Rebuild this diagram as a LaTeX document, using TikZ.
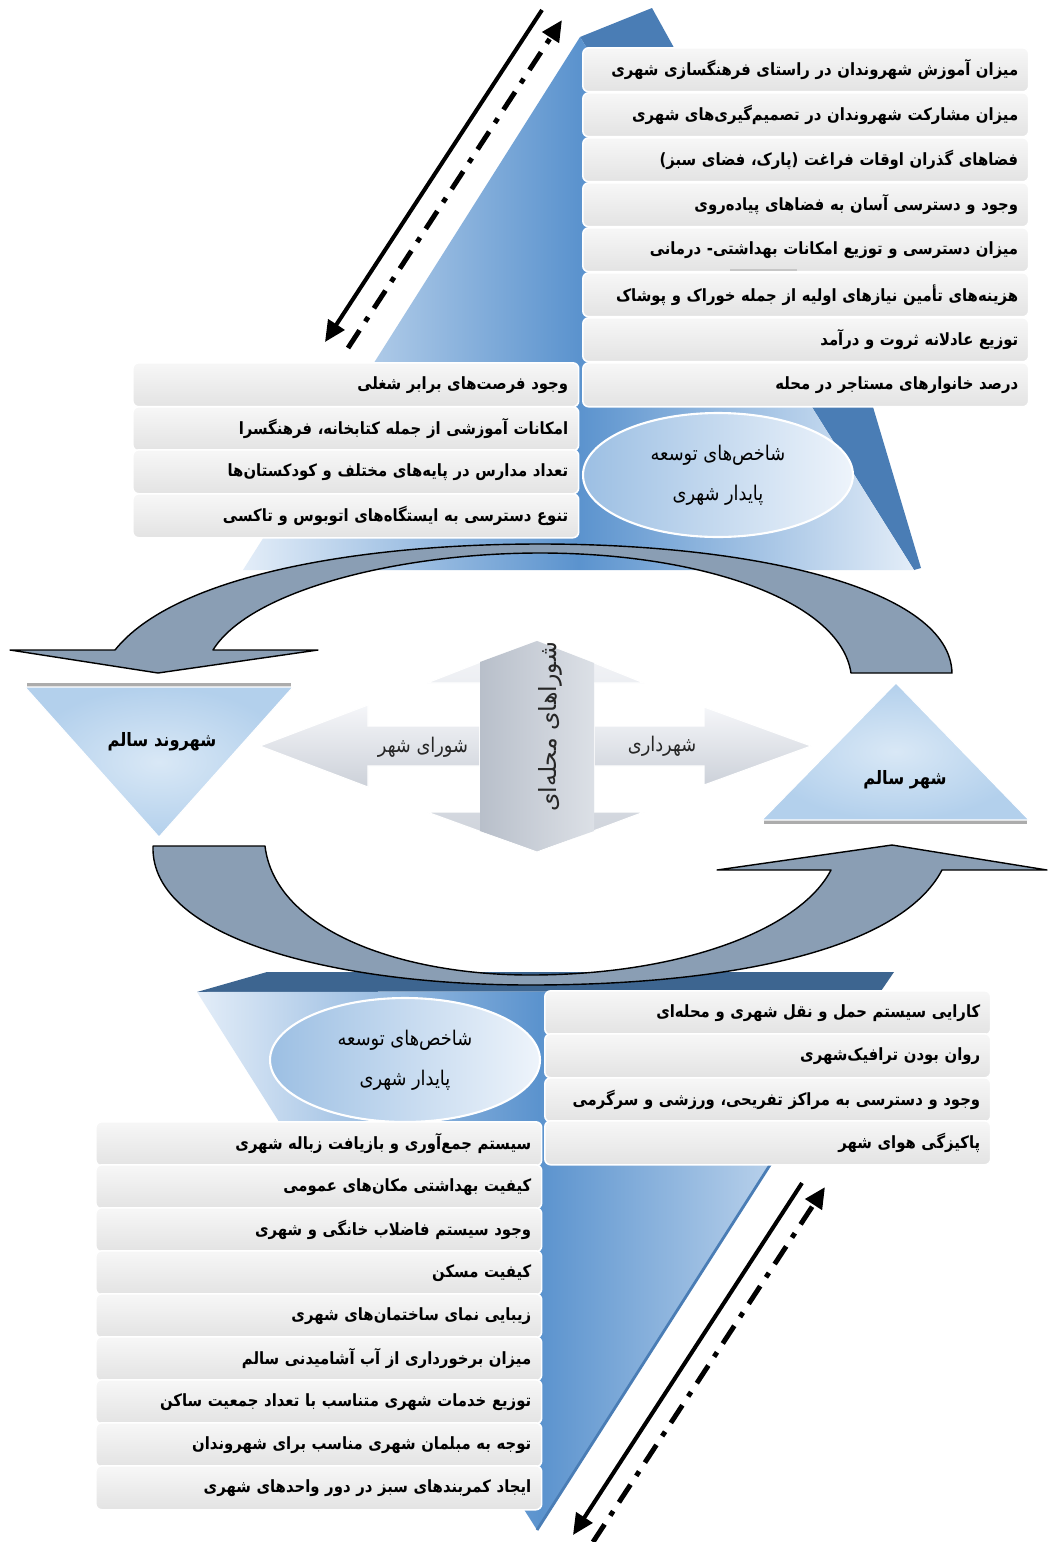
\documentclass[tikz,border=0pt]{standalone}
\usepackage{fontspec}
\newfontfamily\farsi[Script=Arabic]{DejaVu Sans}
\newfontfamily\farsin[Script=Arabic, FakeStretch=0.88]{DejaVu Sans}
\TeXXeTstate=1
\usetikzlibrary{arrows.meta,shapes.geometric}
\newcommand{\rtl}[1]{\beginR #1\endR}

\definecolor{pyrlight}{HTML}{E3EDF8}
\definecolor{pyrblue}{HTML}{5B93CE}
\definecolor{pyrdark}{HTML}{4A7DB5}
\definecolor{banddark}{HTML}{3D6590}
\definecolor{boxtop}{HTML}{F7F7F7}
\definecolor{boxbot}{HTML}{E3E3E3}
\definecolor{arcfill}{HTML}{8A9EB4}
\definecolor{triblue}{HTML}{B3D0EC}
\definecolor{trilight}{HTML}{D9E8F6}
\definecolor{hubdark}{HTML}{9CBFE3}
\definecolor{hublight}{HTML}{EEF4FB}
\definecolor{armlight}{HTML}{F5F6F9}
\definecolor{armdark}{HTML}{CCD1D9}
\definecolor{shaftdark}{HTML}{B8BFCA}
\definecolor{shaftlight}{HTML}{DCE0E6}

\tikzset{
  ibox/.style={anchor=north west, rounded corners=0.12cm, draw=white, line width=0.9pt,
    top color=boxtop, bottom color=boxbot, minimum width=8.92cm, minimum height=0.88cm,
    inner sep=0pt, text width=8.5cm, align=right, font=\farsin\bfseries\fontsize{9.6}{12}\selectfont},
  hub/.style={ellipse, minimum width=5.4cm, minimum height=2.48cm, draw=white, line width=1.2pt,
    left color=hubdark, right color=hublight, align=center, font=\farsin\fontsize{11.5}{23}\selectfont},
  curvearrow/.style={fill=arcfill, draw=black, line width=0.8pt, line join=round},
  tri/.style={inner color=trilight, outer color=triblue, draw=white, line width=0.6pt},
  trilabel/.style={font=\farsin\bfseries\fontsize{10.5}{13}\selectfont},
  arm/.style={top color=armlight, bottom color=armdark, draw=white, line width=0.6pt},
  armlabel/.style={font=\farsin\fontsize{11.5}{14}\selectfont, text=black!85},
  flowline/.style={line width=2.3pt, -{Triangle[length=0.42cm,width=0.38cm]}},
  flowdash/.style={line width=2.8pt, dash pattern=on 12pt off 6pt on 3pt off 6pt,
    -{Triangle[length=0.42cm,width=0.38cm]}}
}

\begin{document}
\begin{tikzpicture}[x=0.02cm, y=-0.02cm]
    \useasboundingbox (0,0) rectangle (1049,1542);
    \fill[white] (0,0) rectangle (1049,1542);%

    % Drawing upper pyramid
    \fill[pyrdark] (580,37) -- (652,8) -- (873,407) -- (921,568) -- (914,570) -- cycle;%
    \shade[left color=pyrlight, right color=pyrlight, middle color=pyrblue] (580,37) -- (243,570) -- (914,570) -- cycle;%

    % Drawing lower pyramid
    \fill[banddark] (197,992) -- (267,972) -- (894,972) -- (881,991) -- cycle;%
    \shade[left color=pyrlight, right color=pyrlight, middle color=pyrblue] (197,992) -- (881,991) -- (537,1530) -- cycle;%
    \draw[pyrdark, line width=1.6pt] (881,991) -- (537,1530);%

    % Marking the two hubs
    \node[hub] (hubtop) at (718,475) {\rtl{شاخص^^^^200cهای توسعه}\\\rtl{پایدار شهری}};%
    \node[hub] (hubbot) at (405,1060) {\rtl{شاخص^^^^200cهای توسعه}\\\rtl{پایدار شهری}};%

    % Upper right boxes
    \node[ibox] (tr1) at (582,47) {\rtl{میزان آموزش شهروندان در راستای فرهنگسازی شهری}};%
    \node[ibox] (tr2) at (582,92) {\rtl{میزان مشارکت شهروندان در تصمیم^^^^200cگیری^^^^200cهای شهری}};%
    \node[ibox] (tr3) at (582,137) {\rtl{فضاهای گذران اوقات فراغت (پارک، فضای سبز)}};%
    \node[ibox] (tr4) at (582,182) {\rtl{وجود و دسترسی آسان به فضاهای پیاده^^^^200cروی}};%
    \node[ibox] (tr5) at (582,227) {\rtl{میزان دسترسی و توزیع امکانات بهداشتی- درمانی}};%
    \node[ibox] (tr6) at (582,272) {\rtl{هزینه^^^^200cهای تأمین نیازهای اولیه از جمله خوراک و پوشاک}};%
    \node[ibox] (tr7) at (582,317) {\rtl{توزیع عادلانه ثروت و درآمد}};%
    \node[ibox] (tr8) at (582,362) {\rtl{درصد خانوارهای مستاجر در محله}};%
    \draw[gray!45, line width=0.6pt] (730,270) -- (797,270);%

    % Upper left boxes
    \node[ibox] (tl1) at (132,362) {\rtl{وجود فرصت^^^^200cهای برابر شغلی}};%
    \node[ibox] (tl2) at (132,406) {\rtl{امکانات آموزشی از جمله کتابخانه، فرهنگسرا}};%
    \node[ibox] (tl3) at (132,449) {\rtl{تعداد مدارس در پایه^^^^200cهای مختلف و کودکستان^^^^200cها}};%
    \node[ibox] (tl4) at (132,493) {\rtl{تنوع دسترسی به ایستگاه^^^^200cهای اتوبوس و تاکسی}};%

    % Lower right boxes
    \node[ibox] (br1) at (544,990) {\rtl{کارایی سیستم حمل و نقل شهری و محله^^^^200cای}};%
    \node[ibox] (br2) at (544,1033) {\rtl{روان بودن ترافیک^^^^200cشهری}};%
    \node[ibox] (br3) at (544,1077) {\rtl{وجود و دسترسی به مراکز تفریحی، ورزشی و سرگرمی}};%
    \node[ibox] (br4) at (544,1120) {\rtl{پاکیزگی هوای شهر}};%

    % Lower left boxes
    \node[ibox] (bl1) at (95,1121) {\rtl{سیستم جمع^^^^200cآوری و بازیافت زباله شهری}};%
    \node[ibox] (bl2) at (95,1164) {\rtl{کیفیت بهداشتی مکان^^^^200cهای عمومی}};%
    \node[ibox] (bl3) at (95,1207) {\rtl{وجود سیستم فاضلاب خانگی و شهری}};%
    \node[ibox] (bl4) at (95,1250) {\rtl{کیفیت مسکن}};%
    \node[ibox] (bl5) at (95,1293) {\rtl{زیبایی نمای ساختمان^^^^200cهای شهری}};%
    \node[ibox] (bl6) at (95,1336) {\rtl{میزان برخورداری از آب آشامیدنی سالم}};%
    \node[ibox] (bl7) at (95,1379) {\rtl{توزیع خدمات شهری متناسب با تعداد جمعیت ساکن}};%
    \node[ibox] (bl8) at (95,1422) {\rtl{توجه به مبلمان شهری مناسب برای شهروندان}};%
    \node[ibox] (bl9) at (95,1465) {\rtl{ایجاد کمربندهای سبز در دور واحدهای شهری}};%

    % Drawing upper curved arrow
    \filldraw[curvearrow] (115,650) .. controls (175,575) and (360,544) .. (540,544) .. controls (760,544) and (950,590) .. (952,673) -- (851,673) .. controls (840,600) and (700,553) .. (540,553) .. controls (400,553) and (250,590) .. (213,650) -- (318,650) -- (158,673) -- (10,650) -- cycle;%

    % Drawing lower curved arrow
    \filldraw[curvearrow] (153,846) .. controls (150,940) and (340,985) .. (530,985) .. controls (730,985) and (900,950) .. (942,870) -- (1047,870) -- (892,845) -- (717,870) -- (831,870) .. controls (800,930) and (680,975) .. (530,975) .. controls (400,975) and (275,930) .. (265,846) -- cycle;%

    % Drawing the two triangles
    \draw[gray!65, line width=2.2pt] (27,685) -- (291,685);%
    \shadedraw[tri] (25,687) -- (293,687) -- (159,837) -- cycle;%
    \draw[gray!65, line width=2.2pt] (764,822) -- (1027,822);%
    \shadedraw[tri] (896,683) -- (762,820) -- (1029,820) -- cycle;%
    \node[trilabel] (citizen) at (162,742) {\rtl{شهروند سالم}};%
    \node[trilabel] (city) at (905,780) {\rtl{شهر سالم}};%

    % Drawing the cross of arrows
    \shadedraw[arm] (260,746) -- (368,705) -- (368,726) -- (480,726) -- (480,766) -- (368,766) -- (368,787) -- cycle;%
    \shadedraw[arm] (811,746) -- (704,707) -- (704,726) -- (594,726) -- (594,766) -- (704,766) -- (704,785) -- cycle;%
    \shadedraw[arm] (537,640) -- (644,683) -- (594,683) -- (594,812) -- (644,812) -- (537,852) -- (427,812) -- (480,812) -- (480,683) -- (427,683) -- cycle;%
    \shade[left color=shaftdark, right color=shaftlight] (537,641) -- (594,663) -- (594,831) -- (537,851) -- (480,831) -- (480,662) -- cycle;%
    \node[armlabel] (citycouncil) at (423,747) {\rtl{شورای شهر}};%
    \node[armlabel] (municipality) at (662,746) {\rtl{شهرداری}};%
    \node[armlabel, font=\farsi\fontsize{13.5}{15}\selectfont, rotate=90] (localcouncil) at (550,727) {\rtl{شوراهای محله^^^^200cای}};%

    % Drawing the dash-dot arrow pairs
    \coordinate (ua1) at (542,10);%
    \coordinate (ua2) at (325,342);%
    \coordinate (ub1) at (348,348);%
    \coordinate (ub2) at (562,20);%
    \draw[flowline] (ua1) -- (ua2);%
    \draw[flowdash] (ub1) -- (ub2);%
    \coordinate (la1) at (802,1183);%
    \coordinate (la2) at (573,1535);%
    \coordinate (lb1) at (593,1542);%
    \coordinate (lb2) at (825,1187);%
    \draw[flowline] (la1) -- (la2);%
    \draw[flowdash] (lb1) -- (lb2);%
\end{tikzpicture}
\end{document}
